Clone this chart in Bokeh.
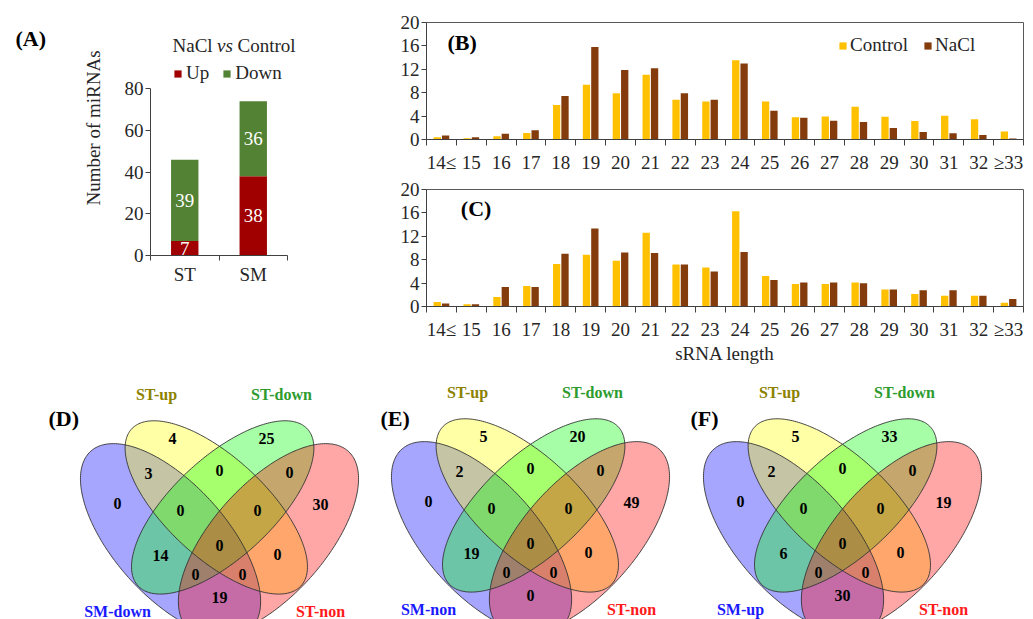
import numpy as np
from bokeh.plotting import figure
from bokeh.models import Range1d, FixedTicker, Legend, LegendItem
from bokeh.layouts import row, column
from bokeh.embed import file_html
from bokeh.resources import INLINE
from bokeh.core.properties import value

SERIF = "Liberation Serif"
INK = "#262626"
AXIS = "#404040"

# ---------------- data ----------------
# (A) number of differentially expressed miRNAs
groups = ["ST", "SM"]
up_counts = [7, 38]
down_counts = [39, 36]

# (B)/(C) sRNA length distribution (%)
lengths = ["14≤", "15", "16", "17", "18", "19", "20", "21", "22", "23",
           "24", "25", "26", "27", "28", "29", "30", "31", "32", "≥33"]
b_control = [0.4, 0.2, 0.55, 1.1, 5.9, 9.35, 7.9, 11.05, 6.8, 6.5,
             13.55, 6.5, 3.8, 3.95, 5.6, 3.9, 3.15, 4.05, 3.45, 1.35]
b_nacl = [0.68, 0.4, 1.0, 1.6, 7.45, 15.8, 11.9, 12.2, 7.9, 6.8,
          13.0, 4.9, 3.7, 3.2, 3.0, 1.95, 1.3, 1.05, 0.75, 0.18]
c_control = [0.78, 0.38, 1.64, 3.5, 7.25, 8.85, 7.83, 12.6, 7.2, 6.65,
             16.3, 5.2, 3.83, 3.83, 4.1, 2.9, 2.15, 1.82, 1.82, 0.64]
c_nacl = [0.5, 0.4, 3.34, 3.34, 9.0, 13.35, 9.24, 9.13, 7.2, 6.0,
          9.3, 4.55, 4.1, 4.1, 3.97, 2.92, 2.78, 2.78, 1.82, 1.3]

# (D)(E)(F) four-set Venn diagrams: set 1 = SM group, 2 = ST-up, 3 = ST-down, 4 = ST-non
venn_tags = ["(D)", "(E)", "(F)"]
venn_sm_names = ["SM-down", "SM-non", "SM-up"]
st_names = ["ST-up", "ST-down", "ST-non"]
region_ids = ["2", "3", "12", "23", "34", "1", "123", "234", "4",
              "13", "1234", "24", "134", "124", "14"]
venn_D_counts = [4, 25, 3, 0, 0, 0, 0, 0, 30, 14, 0, 0, 0, 0, 19]
venn_E_counts = [5, 20, 2, 0, 0, 0, 0, 0, 49, 19, 0, 0, 0, 0, 0]
venn_F_counts = [5, 33, 2, 0, 0, 0, 0, 0, 19, 6, 0, 0, 0, 0, 30]

# ---------------- helpers ----------------
def clean(p):
    p.xgrid.grid_line_color = None
    p.ygrid.grid_line_color = None
    p.background_fill_color = "white"
    p.border_fill_color = "white"


def style_axis(ax, size="19px"):
    ax.axis_line_color = AXIS
    ax.major_label_text_font = SERIF
    ax.major_label_text_font_size = size
    ax.major_label_text_color = INK
    ax.axis_label_text_font = SERIF
    ax.axis_label_text_font_style = "normal"
    ax.axis_label_text_font_size = size
    ax.axis_label_text_color = INK
    ax.major_tick_line_color = AXIS
    ax.minor_tick_line_color = AXIS


def category_axis(ax, n, labels, standoff):
    ax.ticker = FixedTicker(ticks=list(range(n)),
                            minor_ticks=[i - 0.5 for i in range(n + 1)])
    ax.major_label_overrides = {i: lab for i, lab in enumerate(labels)}
    ax.major_tick_line_color = None
    ax.major_tick_out = 0
    ax.major_tick_in = 0
    ax.minor_tick_out = 6
    ax.minor_tick_in = 0
    ax.major_label_standoff = standoff


def style_legend(lg, spacing, standoff):
    lg.glyph_width = 9
    lg.glyph_height = 9
    lg.label_standoff = standoff
    lg.spacing = spacing
    lg.padding = 0
    lg.margin = 0
    lg.border_line_color = None
    lg.background_fill_alpha = 0
    lg.label_text_font = SERIF
    lg.label_text_font_size = "19px"
    lg.label_text_color = INK
    lg.label_height = 20


TOP_H = 366   # height of the upper row

# ---------------- (A) label column ----------------
pa0 = figure(width=60, height=TOP_H, x_range=Range1d(0, 60), y_range=Range1d(0, TOP_H),
             output_backend="svg", toolbar_location=None, min_border=0,
             x_axis_location=None, y_axis_location=None)
clean(pa0)
pa0.outline_line_color = None
pa0.text(x=[15], y=[TOP_H - 55], text=["(A)"], text_font=value(SERIF), text_font_style="bold",
         text_font_size="22px", text_align="left", text_baseline="middle", text_color="black")

# ---------------- (A) stacked bars ----------------
A_PX_X = 68.5           # pixels per category
A_PX_Y = 166.7 / 80.0   # pixels per miRNA
pa = figure(width=325, height=TOP_H,
            x_range=Range1d(-0.5, -0.5 + 235 / A_PX_X), y_range=Range1d(0, 255 / A_PX_Y),
            output_backend="svg", toolbar_location=None,
            min_border_left=90, min_border_right=0, min_border_top=0,
            min_border_bottom=TOP_H - 255)
clean(pa)
pa.outline_line_color = None
src_a = dict(x=list(range(len(groups))), up=up_counts, down=down_counts)
ra = pa.vbar_stack(["up", "down"], x="x", width=0.4, fill_color=["#A00000", "#548235"],
                   line_color=None, source=src_a)
lab_x, lab_y, lab_t = [], [], []
for i, (u, d) in enumerate(zip(up_counts, down_counts)):
    lab_x += [i, i]
    lab_y += [u / 2.0, u + d / 2.0]
    lab_t += [str(u), str(d)]
pa.text(x=lab_x, y=lab_y, text=lab_t, text_color="white", text_font=value(SERIF),
        text_font_size="19px", text_align="center", text_baseline="middle")

style_axis(pa.yaxis[0])
pa.yaxis.ticker = FixedTicker(ticks=[0, 20, 40, 60, 80])
pa.yaxis.bounds = (0, 80)
pa.yaxis.major_tick_out = 5
pa.yaxis.major_tick_in = 0
pa.yaxis.minor_tick_out = 0
pa.yaxis.major_label_standoff = 2
pa.yaxis.axis_label = "Number of miRNAs"
pa.yaxis.axis_label_standoff = 18
style_axis(pa.xaxis[0])
category_axis(pa.xaxis[0], len(groups), groups, 3)
pa.xaxis.minor_tick_out = 5
pa.xaxis.bounds = (-0.5, len(groups) - 0.5)


def ax_x(px):
    return -0.5 + (px - 150) / A_PX_X


def ax_y(py):
    return (255 - py) / A_PX_Y


pa.text(x=[ax_x(172)], y=[ax_y(45)], text=["NaCl"], text_font=value(SERIF), text_font_size="19px",
        text_align="left", text_baseline="middle", text_color=INK)
pa.text(x=[ax_x(216.5)], y=[ax_y(45)], text=["vs"], text_font=value(SERIF), text_font_size="19px",
        text_font_style="italic", text_align="left", text_baseline="middle", text_color=INK)
pa.text(x=[ax_x(237)], y=[ax_y(45)], text=["Control"], text_font=value(SERIF), text_font_size="19px",
        text_align="left", text_baseline="middle", text_color=INK)

leg_a = Legend(items=[LegendItem(label="Up", renderers=[ra[0]]),
                      LegendItem(label="Down", renderers=[ra[1]])],
               orientation="horizontal", location=(23, 171))
style_legend(leg_a, 13, 4)
pa.add_layout(leg_a)

# ---------------- (B) and (C) ----------------
def length_panel(height, mb_left, mb_top, mb_bottom, ctrl, nacl, tag, tag_xy, xlabel=None, legend=False):
    p = figure(width=648, height=height, x_range=Range1d(-0.5, len(lengths) - 0.5),
               y_range=Range1d(0, 20), output_backend="svg", toolbar_location=None,
               min_border_left=mb_left, min_border_right=10, min_border_top=mb_top,
               min_border_bottom=mb_bottom)
    clean(p)
    p.outline_line_color = "#595959"
    p.outline_line_width = 1
    xs = np.arange(len(lengths))
    r1 = p.vbar(x=xs - 0.14, top=ctrl, width=0.245, fill_color="#FFC000", line_color=None)
    r2 = p.vbar(x=xs + 0.14, top=nacl, width=0.245, fill_color="#843C0C", line_color=None)
    style_axis(p.yaxis[0])
    p.yaxis.ticker = FixedTicker(ticks=[0, 4, 8, 12, 16, 20])
    p.yaxis.major_tick_out = 5
    p.yaxis.major_tick_in = 0
    p.yaxis.minor_tick_out = 0
    p.yaxis.major_label_standoff = 2
    style_axis(p.xaxis[0])
    category_axis(p.xaxis[0], len(lengths), lengths, 6)
    if xlabel:
        p.xaxis.axis_label = xlabel
        p.xaxis.axis_label_standoff = 0
    p.text(x=[tag_xy[0]], y=[tag_xy[1]], text=[tag], text_font=value(SERIF), text_font_style="bold",
           text_font_size="22px", text_align="left", text_baseline="middle", text_color="black")
    if legend:
        lg = Legend(items=[LegendItem(label="Control", renderers=[r1]),
                           LegendItem(label="NaCl", renderers=[r2])],
                    orientation="horizontal", location=(412, 83))
        style_legend(lg, 15, 3)
        p.add_layout(lg)
    return p


pb = length_panel(175, 41, 22, 36, b_control, b_nacl, "(B)", (0.2, 16.6), legend=True)
pc = length_panel(TOP_H - 175, 37, 14, TOP_H - 175 - 14 - 118, c_control, c_nacl, "(C)",
                  (0.65, 16.7), xlabel="sRNA length")

# ---------------- (D)(E)(F) Venn diagrams ----------------
VH = 619 - TOP_H              # figure height (page y TOP_H..619)
SX, SY = 320.0, 343.0         # unit-square -> pixel scale
venn_cx = [219, 530, 842]
venn_cy = [545, 543, 543]
venn_counts = [venn_D_counts, venn_E_counts, venn_F_counts]
# ellipse layout in the unit square: colour, centre u, centre v, a, b, angle
ellipses = [
    ("#0000FF", 0.347, 0.4855, 0.36, 0.17, 135),
    ("#FFFF00", 0.490, 0.581, 0.35, 0.15, 140),
    ("#00FF00", 0.510, 0.581, 0.35, 0.15, 40),
    ("#FF0000", 0.653, 0.4855, 0.36, 0.17, 45),
]
region_offsets = {
    "2": (-47, -107), "3": (47, -107), "12": (-71, -72), "23": (0, -75), "34": (70, -73),
    "1": (-102, -42), "123": (-39, -35), "234": (38, -35), "4": (101, -41),
    "13": (-59, 10), "1234": (0, 0), "24": (58, 9), "134": (-24, 29), "124": (23, 29), "14": (0, 52),
}
set_label_offsets = [(-102, 66), (-63, -151), (62, -151), (101, 66)]
set_label_colors = ["#1A1AFF", "#8C8200", "#2E9B2E", "#FF1A1A"]
tag_left = [48, 380, 690]

pv = figure(width=1033, height=VH, x_range=Range1d(0, 1033), y_range=Range1d(0, VH),
            output_backend="svg", toolbar_location=None, min_border=0,
            x_axis_location=None, y_axis_location=None)
clean(pv)
pv.outline_line_color = None

t = np.linspace(0, 2 * np.pi, 240)
for k in range(3):
    cx, cy = venn_cx[k], venn_cy[k]
    outlines = []
    for col, u0, v0, a, b, ang in ellipses:
        th = np.deg2rad(ang)
        u = u0 + a * np.cos(t) * np.cos(th) - b * np.sin(t) * np.sin(th)
        v = v0 + a * np.cos(t) * np.sin(th) + b * np.sin(t) * np.cos(th)
        px = cx + (u - 0.5) * SX
        py = cy + (0.47 - v) * SY
        gy = 619 - py
        pv.patch(px, gy, fill_color=col, fill_alpha=0.35, line_color=None)
        outlines.append((px, gy))
    for px, gy in outlines:
        pv.line(px, gy, line_color="#333333", line_width=1, line_alpha=0.9)

    rx = [cx + region_offsets[r][0] for r in region_ids]
    ry = [619 - (cy + region_offsets[r][1]) for r in region_ids]
    pv.text(x=rx, y=ry, text=[str(c) for c in venn_counts[k]], text_font=value(SERIF),
            text_font_style="bold", text_font_size="16px", text_align="center",
            text_baseline="middle", text_color="black")

    names = [venn_sm_names[k]] + st_names
    sx_ = [cx + o[0] for o in set_label_offsets]
    sy_ = [619 - (cy + o[1]) for o in set_label_offsets]
    pv.text(x=sx_, y=sy_, text=names, text_font=value(SERIF), text_font_style="bold",
            text_font_size="16px", text_align="center", text_baseline="middle",
            text_color=set_label_colors)
    pv.text(x=[tag_left[k]], y=[619 - 418], text=[venn_tags[k]], text_font=value(SERIF),
            text_font_style="bold", text_font_size="22px", text_align="left",
            text_baseline="middle", text_color="black")

layout = column(row(pa0, pa, column(pb, pc)), pv)
open("out.html", "w").write(file_html(layout, INLINE, title="sRNA figure"))
